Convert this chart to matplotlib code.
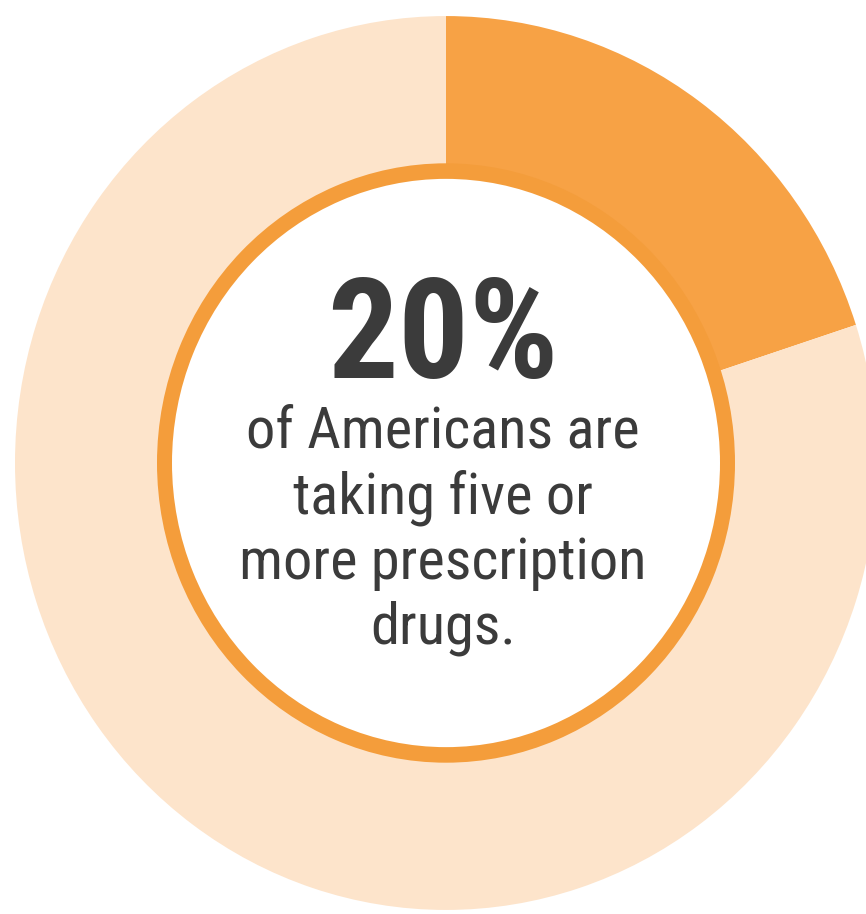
import matplotlib.pyplot as plt
from matplotlib import font_manager

# share of Americans on five or more prescription drugs
labels = ['five or more drugs', 'others']
shares = [20, 80]
colors = ['#F7A245', '#FDE4CB']

headline = '20%'
caption = ['of Americans are', 'taking five or', 'more prescription', 'drugs.']

W, H = 866, 914
sy = 1.037  # the picture is a bit taller than wide
cx, cy = 446, (H - 463) / sy
r_out = 431
r_in = 289
ring_w = 15

# pick a narrow face if one is there
have = {f.name for f in font_manager.fontManager.ttflist}
narrow = [n for n in ['Roboto Condensed', 'Liberation Sans Narrow',
                      'DejaVu Sans Condensed', 'Roboto'] if n in have]
fonts = narrow[:1] + ['DejaVu Sans']

fig = plt.figure(figsize=(W / 100, H / 100), dpi=100)
ax = fig.add_axes([0, 0, 1, 1])

ax.pie(shares, colors=colors, startangle=90, counterclock=False,
       center=(cx, cy), radius=r_out,
       wedgeprops=dict(width=r_out - r_in + 2, linewidth=0))

# thin orange ring and white centre
ax.pie([1], colors=['#F49D3B'], center=(cx, cy), radius=r_in,
       wedgeprops=dict(width=ring_w, linewidth=0))

ax.set_xlim(0, W)
ax.set_ylim(0, H / sy)
ax.set_aspect('auto')
ax.axis('off')

txt_color = '#3b3b3b'

ax.text(cx - 3, (H - 378) / sy, headline, ha='center', va='baseline',
        fontsize=101, fontweight='bold', color=txt_color, family=fonts)

baselines = [447, 513, 579, 643]
for line, yb in zip(caption, baselines):
    ax.text(cx - 3, (H - yb) / sy, line, ha='center', va='baseline',
            fontsize=42, color=txt_color, family=fonts)

plt.savefig('out.png', dpi=100)
plt.close()
